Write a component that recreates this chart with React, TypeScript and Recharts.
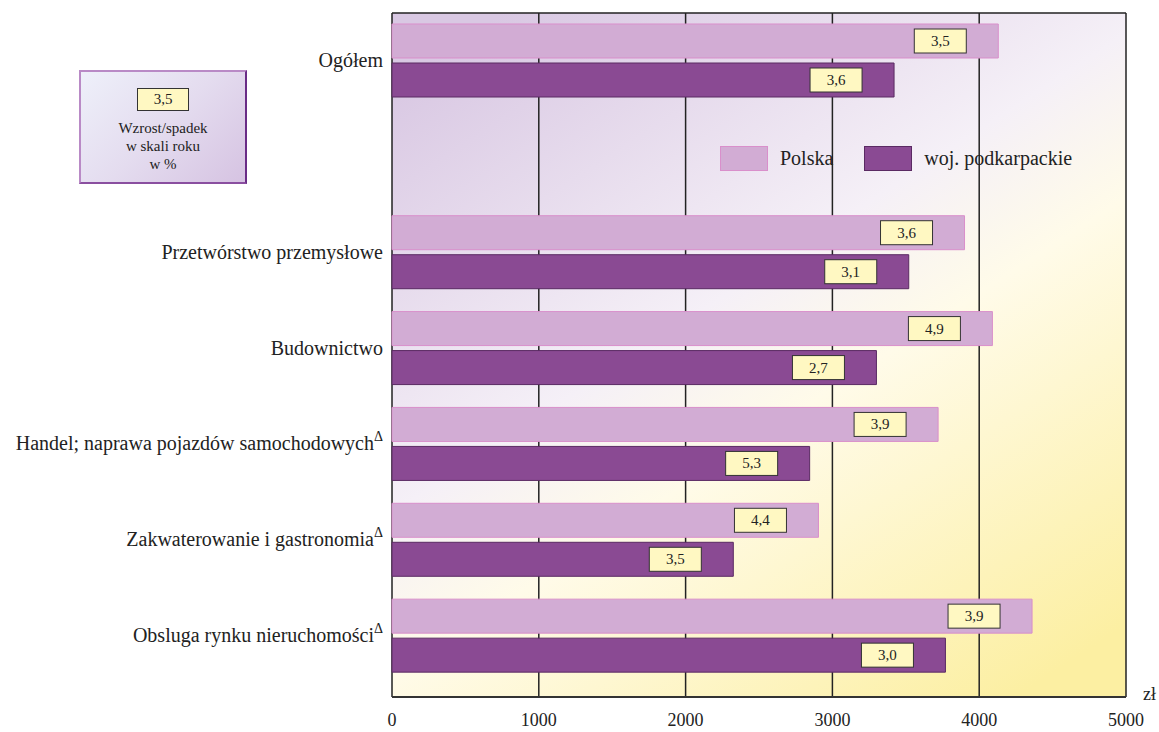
import {
  BarChart,
  Bar,
  XAxis,
  YAxis,
  CartesianGrid,
  LabelList,
} from "recharts";

const categories = [
  "Ogółem",
  "",
  "Przetwórstwo przemysłowe",
  "Budownictwo",
  "Handel; naprawa pojazdów samochodowych",
  "Zakwaterowanie i gastronomia",
  "Obsluga rynku nieruchomości",
];
const deltaMark = [false, false, false, false, true, true, true];

const polska = [4130, null, 3900, 4090, 3720, 2905, 4360];
const podkarpackie = [3420, null, 3520, 3300, 2845, 2325, 3770];

const polskaGrowth = ["3,5", null, "3,6", "4,9", "3,9", "4,4", "3,9"];
const podkarpackieGrowth = ["3,6", null, "3,1", "2,7", "5,3", "3,5", "3,0"];

const xTicks = [0, 1000, 2000, 3000, 4000, 5000];

const data = categories.map((name, i) => ({
  name,
  polska: polska[i],
  podkarpackie: podkarpackie[i],
  pGrowth: polskaGrowth[i],
  kGrowth: podkarpackieGrowth[i],
}));

const FONT = '"Liberation Serif", "Times New Roman", serif';

function CategoryTick(props: any) {
  const { x, y, payload, index } = props;
  const name = payload.value;
  if (!name) return null;
  const hasDelta = deltaMark[index];
  return (
    <text
      x={x - 1}
      y={y}
      dy={6}
      textAnchor="end"
      fontFamily={FONT}
      fontSize={20}
      fill="#222"
    >
      {name}
      {hasDelta && (
        <tspan fontSize={14} dy={-9}>
          Δ
        </tspan>
      )}
    </text>
  );
}

function GrowthBox(props: any) {
  const { x, y, width, height, value } = props;
  if (value == null || !width) return null;
  const bw = 52;
  const bh = 24;
  const bx = x + width - 32 - bw;
  const by = y + height / 2 - bh / 2;
  return (
    <g>
      <rect x={bx} y={by} width={bw} height={bh} fill="#fff8c2" stroke="#333" strokeWidth={1} />
      <text
        x={bx + bw / 2}
        y={by + bh / 2}
        dy={5}
        textAnchor="middle"
        fontFamily={FONT}
        fontSize={15}
        fill="#222"
      >
        {value}
      </text>
    </g>
  );
}

function LegendItem({ fill, stroke, label }: { fill: string; stroke: string; label: string }) {
  return (
    <div style={{ display: "flex", alignItems: "center", marginRight: 31 }}>
      <div
        style={{
          width: 46,
          height: 23,
          background: fill,
          border: `1px solid ${stroke}`,
          marginRight: 12,
        }}
      />
      <span style={{ fontFamily: FONT, fontSize: 20, color: "#222" }}>{label}</span>
    </div>
  );
}

export default function App() {
  return (
    <div style={{ position: "absolute", left: 0, top: 0, width: 1159, height: 732 }}>
      <BarChart
        width={1159}
        height={732}
        data={data}
        layout="vertical"
        margin={{ top: 13, right: 33, bottom: 0, left: 0 }}
        barSize={34}
        barGap={5}
      >
        <defs>
          <linearGradient id="plotBg" x1="0.15" y1="0" x2="0.85" y2="1">
            <stop offset="0" stopColor="#d9c8e3" />
            <stop offset="0.42" stopColor="#f5f0f7" />
            <stop offset="0.58" stopColor="#fffbe9" />
            <stop offset="1" stopColor="#fcefa2" />
          </linearGradient>
        </defs>
        <CartesianGrid
          horizontalPoints={[13]}
          stroke="#222"
          strokeWidth={1.5}
          fill="url(#plotBg)"
          fillOpacity={1}
        />
        <XAxis
          type="number"
          domain={[0, 5000]}
          ticks={xTicks}
          height={35}
          tickLine={false}
          tickSize={14}
          axisLine={{ stroke: "#333", strokeWidth: 2 }}
          tick={{ fontFamily: FONT, fontSize: 18, fill: "#222" }}
          interval={0}
        />
        <YAxis
          type="category"
          dataKey="name"
          width={392}
          axisLine={false}
          tickLine={false}
          interval={0}
          padding={{ top: 0, bottom: 13 }}
          tick={<CategoryTick />}
        />
        <Bar
          dataKey="polska"
          name="Polska"
          fill="#d2acd4"
          stroke="#d98fcb"
          strokeWidth={1}
          isAnimationActive={false}
        >
          <LabelList dataKey="pGrowth" content={<GrowthBox />} />
        </Bar>
        <Bar
          dataKey="podkarpackie"
          name="woj. podkarpackie"
          fill="#8a4a93"
          stroke="#5a2a63"
          strokeWidth={1}
          isAnimationActive={false}
        >
          <LabelList dataKey="kGrowth" content={<GrowthBox />} />
        </Bar>
      </BarChart>
      <div style={{ position: "absolute", left: 720, top: 146, display: "flex" }}>
        <LegendItem fill="#d2acd4" stroke="#d98fcb" label="Polska" />
        <LegendItem fill="#8a4a93" stroke="#5a2a63" label="woj. podkarpackie" />
      </div>
      <div
        style={{
          position: "absolute",
          left: 79,
          top: 70,
          width: 164,
          height: 110,
          background: "linear-gradient(135deg, #eef0fa 0%, #e4dcef 50%, #d6c3e2 100%)",
          borderTop: "2px solid #b98ac6",
          borderLeft: "2px solid #b98ac6",
          borderRight: "2px solid #6a2c86",
          borderBottom: "2px solid #8a4fa0",
          fontFamily: FONT,
          textAlign: "center",
          color: "#222",
        }}
      >
        <div
          style={{
            margin: "16px auto 0",
            width: 50,
            height: 21,
            background: "#fff8c2",
            border: "1px solid #333",
            fontSize: 15,
            lineHeight: "21px",
          }}
        >
          3,5
        </div>
        <div style={{ fontSize: 15, lineHeight: "18px", marginTop: 8 }}>
          Wzrost/spadek
          <br />w skali roku
          <br />w %
        </div>
      </div>
      <div
        style={{
          position: "absolute",
          left: 1143,
          top: 684,
          fontFamily: FONT,
          fontSize: 18,
          color: "#222",
        }}
      >
        zł
      </div>
    </div>
  );
}
